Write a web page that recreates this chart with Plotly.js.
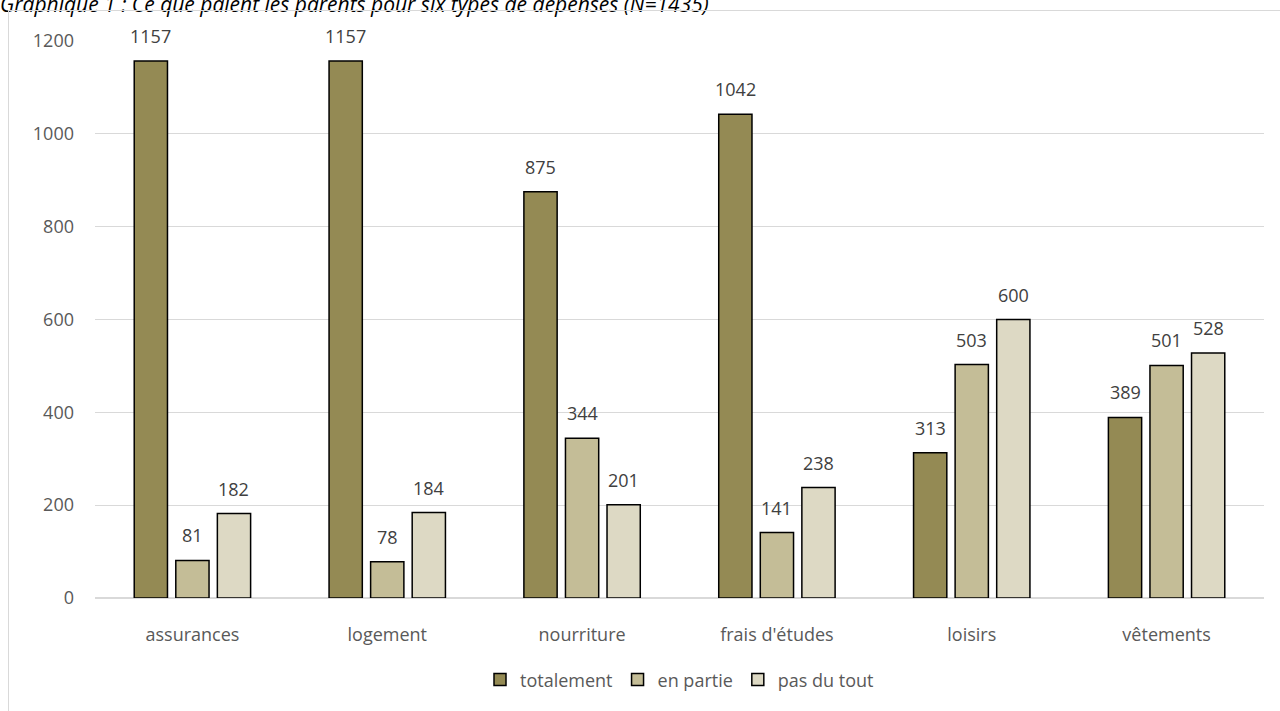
<!DOCTYPE html>
<html><head><meta charset="utf-8">
<script src="https://cdn.plot.ly/plotly-3.0.1.min.js"></script>
<style>
html,body{margin:0;padding:0;background:#fff;overflow:hidden;}
#chart{position:absolute;left:0;top:0;width:1280px;height:711px;}
#frame{position:absolute;left:8px;top:10px;width:1400px;height:800px;border:1px solid #d9d9d9;pointer-events:none;}
</style></head>
<body>
<div id="chart"></div>
<div id="frame"></div>
<script>
const categories = ["assurances","logement","nourriture","frais d'études","loisirs","vêtements"];
const totalement = [1157,1157,875,1042,313,389];
const enPartie = [81,78,344,141,503,501];
const pasDuTout = [182,184,201,238,600,528];
const seriesNames = ["totalement","en partie","pas du tout"];
const colors = ["#948A54","#C4BD97","#DDD9C4"];
const titleText = "Graphique 1 : Ce que paient les parents pour six types de dépenses (N=1435)";

const vals = [totalement, enPartie, pasDuTout];
const traces = vals.map((v,i)=>({
  type:'bar', x:categories, y:v, name:seriesNames[i],
  marker:{color:colors[i], line:{color:'#000', width:1.5}}
}));

const ml = 95, mr = 16;
const plotW = 1280 - ml - mr;
const bargap = 0.36;
const slot = plotW / categories.length * (1 - bargap) / 3;
const annotations = [];
vals.forEach((v,i)=>{
  v.forEach((y,j)=>{
    annotations.push({x:categories[j], y:y, xref:'x', yref:'y', text:String(y), showarrow:false,
      xshift:(i-1)*slot, yshift:25, yanchor:'middle',
      font:{family:'Open Sans, sans-serif', size:18, color:'#404040'}});
  });
});

const layout = {
  width:1280, height:711,
  margin:{l:ml, r:mr, t:41, b:113},
  paper_bgcolor:'#fff', plot_bgcolor:'#fff',
  barmode:'group', bargap:bargap, bargroupgap:0.2,
  font:{family:'Open Sans, sans-serif', color:'#595959'},
  title:{text:titleText, font:{family:'Open Sans, sans-serif', size:21, color:'#000', style:'italic'},
    xref:'container', yref:'container', x:0, xanchor:'left', y:1 - 5/711, yanchor:'middle', pad:{t:0,l:0}},
  xaxis:{showgrid:false, tickfont:{size:18, color:'#595959'}, ticks:'', showline:false, zeroline:false, ticklabelstandoff:24},
  yaxis:{range:[0,1200], dtick:200, showgrid:true, gridcolor:'#d9d9d9', gridwidth:1.3, zeroline:true, zerolinecolor:'#d9d9d9', zerolinewidth:1.3,
    tickfont:{size:18, color:'#595959'}, ticklabelstandoff:20, showline:false},
  legend:{orientation:'h', x:0.5, xanchor:'center', y:-0.147, yanchor:'middle', font:{size:18, color:'#595959'}, itemwidth:30, traceorder:'normal'},
  annotations:annotations,
  showlegend:true
};
Plotly.newPlot('chart', traces, layout, {displayModeBar:false, staticPlot:true});
</script>
</body></html>
